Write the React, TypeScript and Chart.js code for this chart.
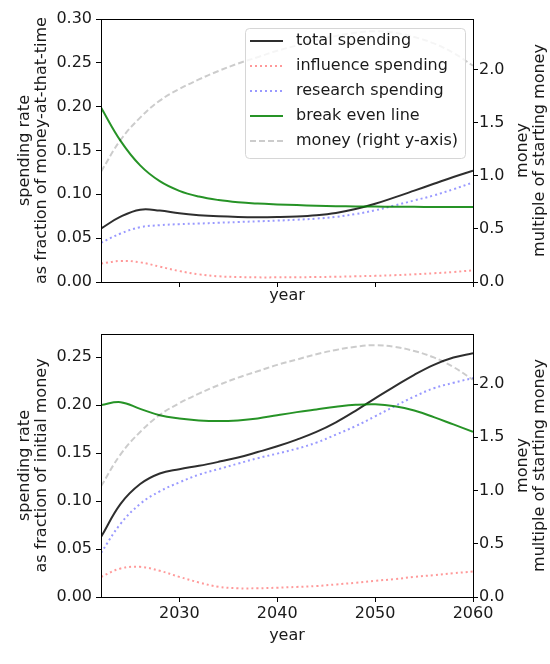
import { useEffect, useRef } from "react"
import { Chart, registerables } from "chart.js"

Chart.register(...registerables)

const years = [2022, 2024, 2026, 2028, 2030, 2032, 2034, 2036, 2038, 2040, 2042, 2044, 2046, 2048, 2050, 2052, 2054, 2056, 2058, 2060]

// upper panel: spending as fraction of money at that time
const totalTop = [0.061, 0.0745, 0.0825, 0.0815, 0.0783, 0.0762, 0.0749, 0.0742, 0.074, 0.0742, 0.0748, 0.0762, 0.0788, 0.0832, 0.0892, 0.0965, 0.1042, 0.112, 0.1198, 0.127]
const influenceTop = [0.021, 0.024, 0.0225, 0.0175, 0.0125, 0.0088, 0.0065, 0.0057, 0.0053, 0.0053, 0.0054, 0.0057, 0.006, 0.0065, 0.007, 0.0078, 0.0088, 0.01, 0.0114, 0.0133]
const researchTop = [0.0447, 0.0553, 0.0625, 0.0648, 0.066, 0.0667, 0.0676, 0.0684, 0.0692, 0.07, 0.071, 0.0723, 0.0743, 0.0775, 0.0818, 0.0873, 0.093, 0.0988, 0.1058, 0.1136]
const breakEvenTop = [0.199, 0.161, 0.133, 0.115, 0.104, 0.0975, 0.0935, 0.091, 0.0895, 0.0885, 0.0877, 0.087, 0.0865, 0.0862, 0.086, 0.0858, 0.0857, 0.0856, 0.0855, 0.0855]

// lower panel: spending as fraction of initial money
const totalBottom = [0.0624, 0.097, 0.1177, 0.1287, 0.1332, 0.1367, 0.1408, 0.1453, 0.151, 0.157, 0.164, 0.172, 0.182, 0.194, 0.207, 0.2194, 0.2315, 0.2419, 0.2495, 0.254]
const influenceBottom = [0.021, 0.0297, 0.0314, 0.0273, 0.021, 0.0152, 0.0107, 0.0091, 0.0091, 0.0097, 0.0105, 0.0114, 0.0131, 0.0148, 0.0169, 0.0186, 0.021, 0.0228, 0.0248, 0.0265]
const researchBottom = [0.0459, 0.0763, 0.097, 0.1101, 0.1194, 0.1274, 0.1332, 0.139, 0.1446, 0.1494, 0.1545, 0.1608, 0.1692, 0.178, 0.1882, 0.1988, 0.2088, 0.2175, 0.2232, 0.2281]
const breakEvenBottom = [0.2, 0.203, 0.196, 0.1894, 0.186, 0.184, 0.1833, 0.184, 0.186, 0.1894, 0.1926, 0.1954, 0.1981, 0.2002, 0.2008, 0.1988, 0.1943, 0.1874, 0.1798, 0.1722]

// money, multiple of starting money (right axis, same in both panels)
const money = [1.04, 1.34, 1.55, 1.71, 1.82, 1.91, 1.99, 2.06, 2.12, 2.18, 2.23, 2.28, 2.32, 2.35, 2.365, 2.35, 2.31, 2.25, 2.16, 2.04]

const xTicks = [2030, 2040, 2050, 2060]
const topLeftTicks = [0, 0.05, 0.1, 0.15, 0.2, 0.25, 0.3]
const bottomLeftTicks = [0, 0.05, 0.1, 0.15, 0.2, 0.25]
const rightTicks = [0, 0.5, 1, 1.5, 2]

const labels = ["total spending", "influence spending", "research spending", "break even line", "money (right y-axis)"]

const FONT = "DejaVu Sans"
const FONT_SIZE = 16
const TEXT = "#1a1a1a"

type PanelProps = {
  total: number[]
  influence: number[]
  research: number[]
  breakEven: number[]
  leftMax: number
  rightMax: number
  leftTicks: number[]
  leftTitle: string[]
  top: number
  height: number
  padTop: number
  xAxisHeight: number
  showXLabels: boolean
  xTitleY: number
  withLegend: boolean
}

function Panel(p: PanelProps) {
  const chartRef = useRef<HTMLCanvasElement>(null)
  const chartInstance = useRef<Chart | null>(null)

  useEffect(() => {
    if (!chartRef.current) return
    if (chartInstance.current) chartInstance.current.destroy()

    const pts = (arr: number[]) => arr.map((v, i) => ({ x: years[i], y: v }))

    const datasets: any[] = [
      { label: labels[0], data: pts(p.total), borderColor: "rgba(0,0,0,0.82)", borderWidth: 2, yAxisID: "y", order: 4 },
      { label: labels[1], data: pts(p.influence), borderColor: "rgba(255,0,0,0.4)", borderWidth: 2, borderDash: [2, 3], yAxisID: "y", order: 3 },
      { label: labels[2], data: pts(p.research), borderColor: "rgba(0,0,255,0.4)", borderWidth: 2, borderDash: [2, 3], yAxisID: "y", order: 2 },
      { label: labels[3], data: pts(p.breakEven), borderColor: "rgba(0,128,0,0.85)", borderWidth: 2, yAxisID: "y", order: 1 },
      { label: labels[4], data: pts(money), borderColor: "rgba(0,0,0,0.2)", borderWidth: 2, borderDash: [6, 3], yAxisID: "y1", order: 0 },
    ].map((d) => ({ ...d, pointRadius: 0, fill: false, tension: 0.4, backgroundColor: d.borderColor }))

    const drawRotated = (ctx: CanvasRenderingContext2D, text: string, x: number, y: number) => {
      ctx.save()
      ctx.translate(x, y)
      ctx.rotate(-Math.PI / 2)
      ctx.textAlign = "center"
      ctx.textBaseline = "middle"
      ctx.fillText(text, 0, 0)
      ctx.restore()
    }

    const decor = {
      id: "decor",
      afterDatasetsDraw(chart: Chart) {
        const { ctx, chartArea: a } = chart
        ctx.save()
        ctx.strokeStyle = "#000"
        ctx.lineWidth = 1
        ctx.setLineDash([])
        ctx.strokeRect(Math.round(a.left) + 0.5, Math.round(a.top) + 0.5, Math.round(a.right - a.left), Math.round(a.bottom - a.top))

        // axis titles
        ctx.fillStyle = TEXT
        ctx.font = `${FONT_SIZE}px "${FONT}"`
        const cy = (a.top + a.bottom) / 2
        drawRotated(ctx, p.leftTitle[0], 25, cy)
        drawRotated(ctx, p.leftTitle[1], 42, cy)
        drawRotated(ctx, "money", 523, cy)
        drawRotated(ctx, "multiple of starting money", 540, cy)
        ctx.textAlign = "center"
        ctx.textBaseline = "middle"
        ctx.fillText("year", (a.left + a.right) / 2, p.xTitleY)

        if (p.withLegend) {
          const bx = 245, by = 28, bw = 220, bh = 130
          ctx.beginPath()
          ctx.roundRect(bx + 0.5, by + 0.5, bw, bh, 4)
          ctx.fillStyle = "rgba(255,255,255,0.8)"
          ctx.fill()
          ctx.strokeStyle = "#d6d6d6"
          ctx.stroke()
          chart.data.datasets.forEach((ds: any, i: number) => {
            const y = 41 + i * 25
            ctx.beginPath()
            ctx.strokeStyle = ds.borderColor
            ctx.lineWidth = ds.borderWidth
            ctx.setLineDash(ds.borderDash || [])
            ctx.moveTo(250, y)
            ctx.lineTo(283, y)
            ctx.stroke()
            ctx.setLineDash([])
            ctx.fillStyle = TEXT
            ctx.textAlign = "left"
            ctx.textBaseline = "middle"
            ctx.fillText(ds.label, 296, y)
          })
        }
        ctx.restore()
      },
    }

    const tickFont = { family: FONT, size: FONT_SIZE }
    const grid = { drawOnChartArea: false, drawTicks: true, tickLength: 5, color: "#000", lineWidth: 1 }

    chartInstance.current = new Chart(chartRef.current, {
      type: "line",
      data: { datasets },
      options: {
        animation: false,
        responsive: true,
        maintainAspectRatio: false,
        layout: { padding: { top: p.padTop, left: 0, right: 0, bottom: 0 } },
        plugins: { legend: { display: false }, tooltip: { enabled: false } },
        scales: {
          x: {
            type: "linear",
            min: 2022,
            max: 2060,
            grid,
            border: { display: false },
            afterBuildTicks: (s: any) => {
              s.ticks = xTicks.map((v) => ({ value: v }))
            },
            afterFit: (s: any) => {
              s.height = p.xAxisHeight
            },
            ticks: { display: p.showXLabels, font: tickFont, color: TEXT, padding: 2, maxRotation: 0, callback: (v: any) => String(v) },
          },
          y: {
            position: "left",
            min: 0,
            max: p.leftMax,
            grid,
            border: { display: false },
            afterBuildTicks: (s: any) => {
              s.ticks = p.leftTicks.map((v) => ({ value: v }))
            },
            afterFit: (s: any) => {
              s.width = 101
            },
            ticks: { font: tickFont, color: TEXT, padding: 4, callback: (v: any) => Number(v).toFixed(2) },
          },
          y1: {
            position: "right",
            min: 0,
            max: p.rightMax,
            grid,
            border: { display: false },
            afterBuildTicks: (s: any) => {
              s.ticks = rightTicks.map((v) => ({ value: v }))
            },
            afterFit: (s: any) => {
              s.width = 77
            },
            ticks: { font: tickFont, color: TEXT, padding: 1, callback: (v: any) => Number(v).toFixed(1) },
          },
        },
      },
      plugins: [decor],
    })

    return () => {
      if (chartInstance.current) {
        chartInstance.current.destroy()
        chartInstance.current = null
      }
    }
  }, [p])

  return (
    <div style={{ position: "absolute", left: 0, top: p.top, width: 550, height: p.height }}>
      <canvas ref={chartRef} />
    </div>
  )
}

const topPanel: PanelProps = {
  total: totalTop,
  influence: influenceTop,
  research: researchTop,
  breakEven: breakEvenTop,
  leftMax: 0.3,
  rightMax: 2.48,
  leftTicks: topLeftTicks,
  leftTitle: ["spending rate", "as fraction of money-at-that-time"],
  top: 0,
  height: 310,
  padTop: 19,
  xAxisHeight: 28,
  showXLabels: false,
  xTitleY: 296,
  withLegend: true,
}

const bottomPanel: PanelProps = {
  total: totalBottom,
  influence: influenceBottom,
  research: researchBottom,
  breakEven: breakEvenBottom,
  leftMax: 0.274,
  rightMax: 2.47,
  leftTicks: bottomLeftTicks,
  leftTitle: ["spending rate", "as fraction of initial money"],
  top: 310,
  height: 354,
  padTop: 24,
  xAxisHeight: 67,
  showXLabels: true,
  xTitleY: 326,
  withLegend: false,
}

export default function App() {
  return (
    <div style={{ position: "absolute", left: 0, top: 0, width: 550, height: 664, background: "#fff" }}>
      <Panel {...topPanel} />
      <Panel {...bottomPanel} />
    </div>
  )
}
